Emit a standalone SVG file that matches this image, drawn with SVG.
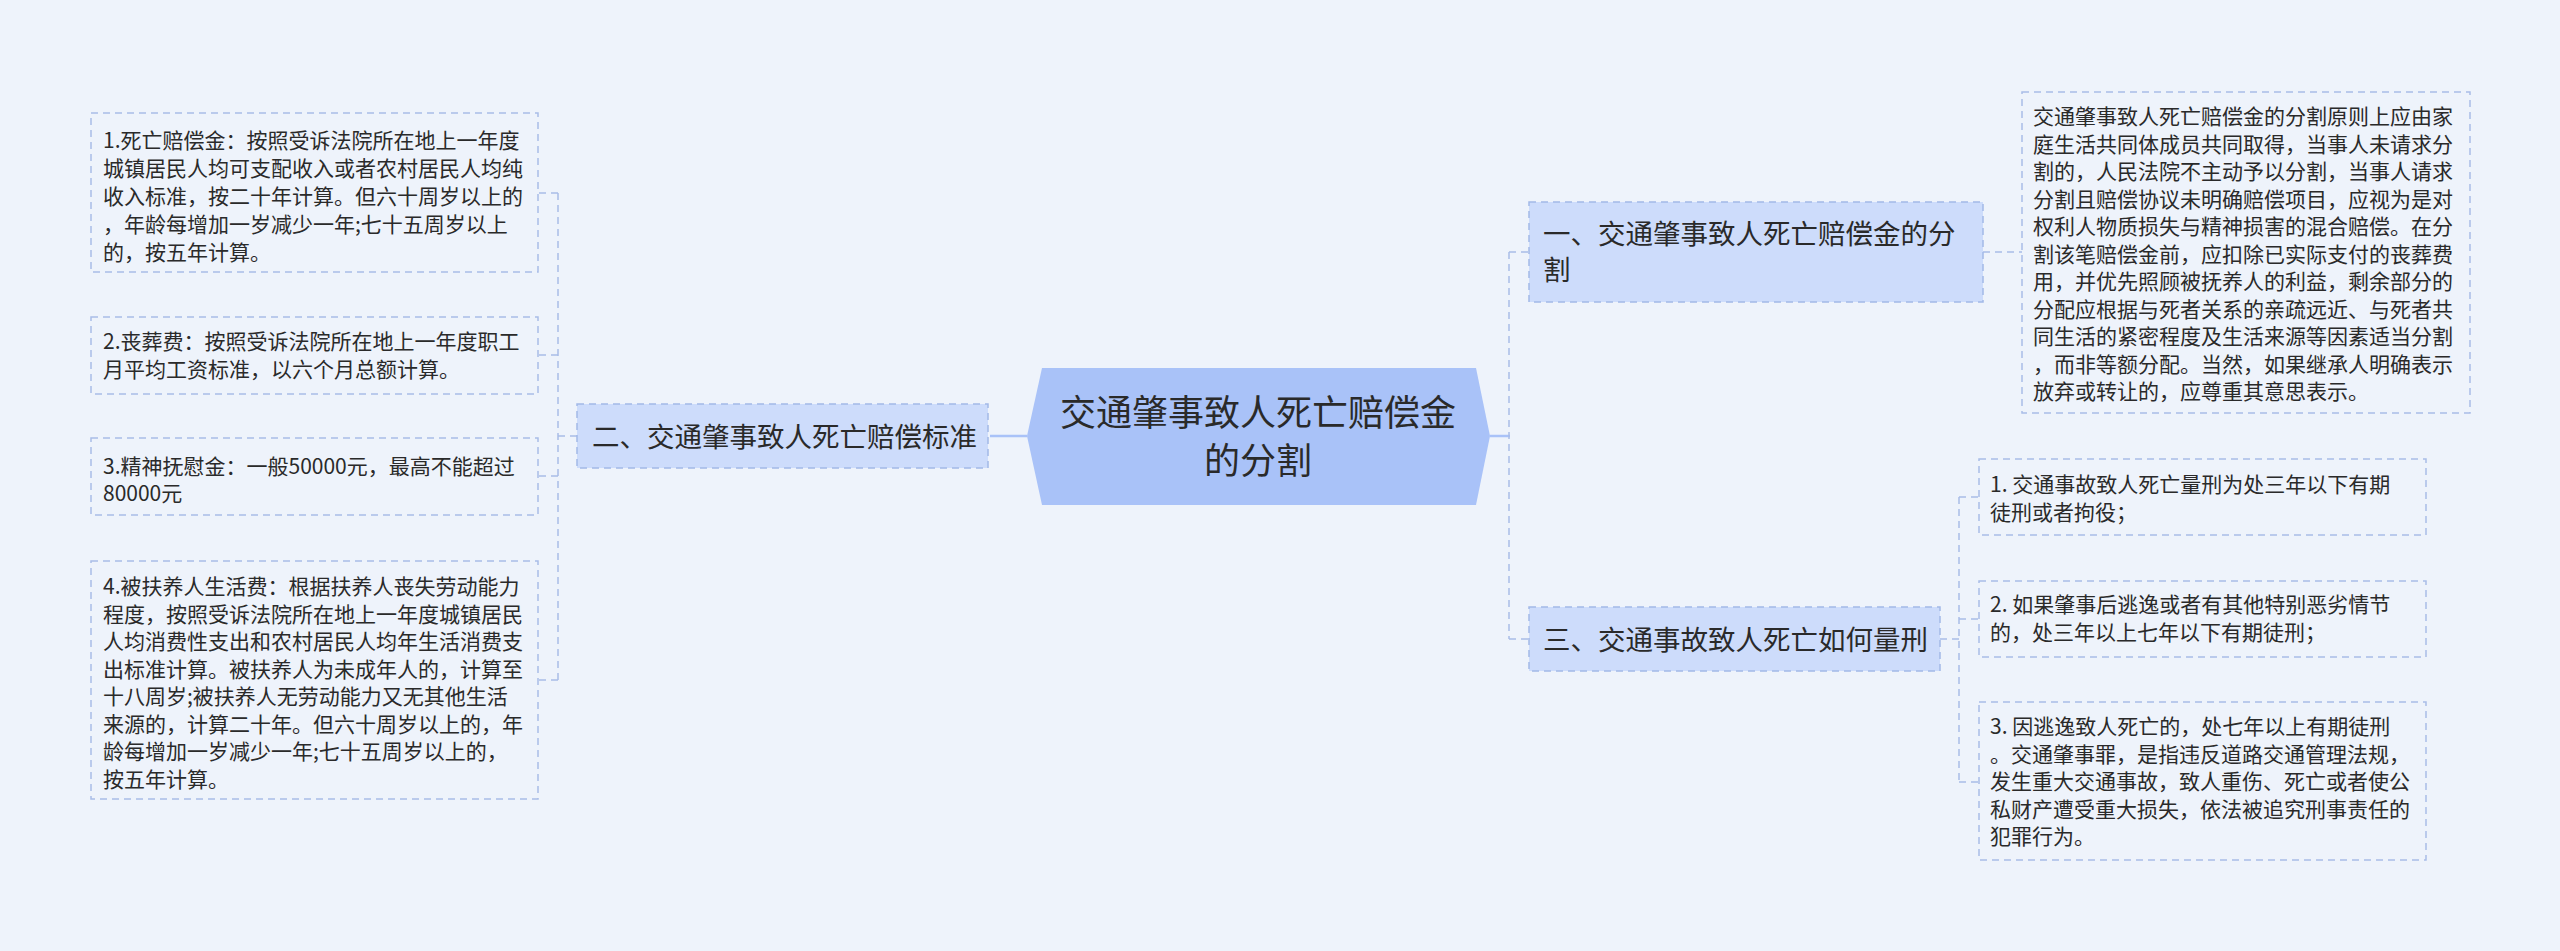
<svg xmlns="http://www.w3.org/2000/svg" width="2560" height="951" viewBox="0 0 2560 951">
<style>
.bg{fill:#eef3fb}
.root{fill:#a9c2f8}
.sub{fill:#cddcfb;stroke:#a3b9e8;stroke-width:1.5;stroke-dasharray:7 5}
.leaf{fill:none;stroke:#a9bde8;stroke-width:1.5;stroke-dasharray:7 5}
.edge{fill:none;stroke:#a9bde8;stroke-width:1.5;stroke-dasharray:7 5}
.solid{fill:none;stroke:#a9c2f8;stroke-width:2.5}
text{font-family:"Noto Sans CJK SC","Noto Sans",sans-serif;fill:#2a2a2a}
.t34{font-size:36px}
.t27{font-size:27.5px}
.t21{font-size:21px}
</style>
<rect class="bg" x="0" y="0" width="2560" height="951"/>
<g id="connectors">
<path class="solid" d="M990 436 H1027"/>
<path class="solid" d="M1490 436 H1510"/>
<path class="edge" d="M1509 252 V639"/>
<path class="edge" d="M1509 252 H1529"/>
<path class="edge" d="M1509 639 H1529"/>
<path class="edge" d="M1983 252 H2022"/>
<path class="edge" d="M1940 639 H1959"/>
<path class="edge" d="M1959 497 V782"/>
<path class="edge" d="M1959 497 H1979"/>
<path class="edge" d="M1959 619 H1979"/>
<path class="edge" d="M1959 782 H1979"/>
<path class="edge" d="M577 436 H558"/>
<path class="edge" d="M558 193 V680"/>
<path class="edge" d="M558 193 H538"/>
<path class="edge" d="M558 355 H538"/>
<path class="edge" d="M558 476 H538"/>
<path class="edge" d="M558 680 H538"/>
</g>
<g id="root">
<polygon class="root" points="1027,436 1042,368 1476,368 1490,436 1476,505 1042,505"/>
<text class="t34" text-anchor="middle"><tspan x="1258" y="426">交通肇事致人死亡赔偿金</tspan><tspan x="1258" y="474">的分割</tspan></text>
</g>
<g id="n1">
<rect class="sub" x="1529" y="202" width="454" height="100"/>
<text class="t27"><tspan x="1543" y="244">一、交通肇事致人死亡赔偿金的分</tspan><tspan x="1543" y="280">割</tspan></text>
</g>
<g id="n1d">
<rect class="leaf" x="2022" y="92" width="448" height="321"/>
<text class="t21">
<tspan x="2033" y="124">交通肇事致人死亡赔偿金的分割原则上应由家</tspan>
<tspan x="2033" y="151.5">庭生活共同体成员共同取得，当事人未请求分</tspan>
<tspan x="2033" y="179">割的，人民法院不主动予以分割，当事人请求</tspan>
<tspan x="2033" y="206.5">分割且赔偿协议未明确赔偿项目，应视为是对</tspan>
<tspan x="2033" y="234">权利人物质损失与精神损害的混合赔偿。在分</tspan>
<tspan x="2033" y="261.5">割该笔赔偿金前，应扣除已实际支付的丧葬费</tspan>
<tspan x="2033" y="289">用，并优先照顾被抚养人的利益，剩余部分的</tspan>
<tspan x="2033" y="316.5">分配应根据与死者关系的亲疏远近、与死者共</tspan>
<tspan x="2033" y="344">同生活的紧密程度及生活来源等因素适当分割</tspan>
<tspan x="2033" y="371.5">，而非等额分配。当然，如果继承人明确表示</tspan>
<tspan x="2033" y="399">放弃或转让的，应尊重其意思表示。</tspan>
</text>
</g>
<g id="n2">
<rect class="sub" x="577" y="404" width="411" height="64"/>
<text class="t27"><tspan x="592" y="447">二、交通肇事致人死亡赔偿标准</tspan></text>
</g>
<g id="n2a">
<rect class="leaf" x="91" y="113" width="447" height="159"/>
<text class="t21">
<tspan x="103" y="147.5">1.死亡赔偿金：按照受诉法院所在地上一年度</tspan>
<tspan x="103" y="175.5">城镇居民人均可支配收入或者农村居民人均纯</tspan>
<tspan x="103" y="203.5">收入标准，按二十年计算。但六十周岁以上的</tspan>
<tspan x="103" y="231.5">，年龄每增加一岁减少一年;七十五周岁以上</tspan>
<tspan x="103" y="259.5">的，按五年计算。</tspan>
</text>
</g>
<g id="n2b">
<rect class="leaf" x="91" y="317" width="447" height="77"/>
<text class="t21">
<tspan x="103" y="349">2.丧葬费：按照受诉法院所在地上一年度职工</tspan>
<tspan x="103" y="377">月平均工资标准，以六个月总额计算。</tspan>
</text>
</g>
<g id="n2c">
<rect class="leaf" x="91" y="438" width="447" height="77"/>
<text class="t21">
<tspan x="103" y="474">3.精神抚慰金：一般50000元，最高不能超过</tspan>
<tspan x="103" y="501">80000元</tspan>
</text>
</g>
<g id="n2d">
<rect class="leaf" x="91" y="561" width="447" height="238"/>
<text class="t21">
<tspan x="103" y="594">4.被扶养人生活费：根据扶养人丧失劳动能力</tspan>
<tspan x="103" y="621.5">程度，按照受诉法院所在地上一年度城镇居民</tspan>
<tspan x="103" y="649">人均消费性支出和农村居民人均年生活消费支</tspan>
<tspan x="103" y="676.5">出标准计算。被扶养人为未成年人的，计算至</tspan>
<tspan x="103" y="704">十八周岁;被扶养人无劳动能力又无其他生活</tspan>
<tspan x="103" y="731.5">来源的，计算二十年。但六十周岁以上的，年</tspan>
<tspan x="103" y="759">龄每增加一岁减少一年;七十五周岁以上的，</tspan>
<tspan x="103" y="786.5">按五年计算。</tspan>
</text>
</g>
<g id="n3">
<rect class="sub" x="1529" y="607" width="411" height="64"/>
<text class="t27"><tspan x="1543" y="650">三、交通事故致人死亡如何量刑</tspan></text>
</g>
<g id="n3a">
<rect class="leaf" x="1979" y="459" width="447" height="76"/>
<text class="t21">
<tspan x="1990" y="492">1. 交通事故致人死亡量刑为处三年以下有期</tspan>
<tspan x="1990" y="519.5">徒刑或者拘役；</tspan>
</text>
</g>
<g id="n3b">
<rect class="leaf" x="1979" y="581" width="447" height="76"/>
<text class="t21">
<tspan x="1990" y="612">2. 如果肇事后逃逸或者有其他特别恶劣情节</tspan>
<tspan x="1990" y="639.5">的，处三年以上七年以下有期徒刑；</tspan>
</text>
</g>
<g id="n3c">
<rect class="leaf" x="1979" y="702" width="447" height="158"/>
<text class="t21">
<tspan x="1990" y="734">3. 因逃逸致人死亡的，处七年以上有期徒刑</tspan>
<tspan x="1990" y="761.5">。交通肇事罪，是指违反道路交通管理法规，</tspan>
<tspan x="1990" y="789">发生重大交通事故，致人重伤、死亡或者使公</tspan>
<tspan x="1990" y="816.5">私财产遭受重大损失，依法被追究刑事责任的</tspan>
<tspan x="1990" y="844">犯罪行为。</tspan>
</text>
</g>
</svg>
